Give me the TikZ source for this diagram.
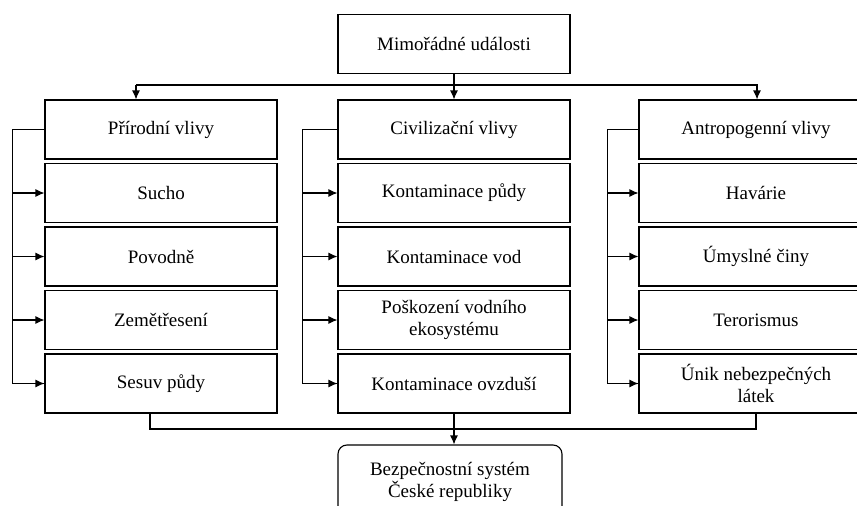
\documentclass[tikz,border=0pt]{standalone}
\usepackage{fontspec}
\setmainfont{Liberation Serif}
\usepackage{tikz}
\usetikzlibrary{calc, arrows.meta}

\begin{document}
\begin{tikzpicture}[x=1pt, y=-1pt, line width=1.1pt,
        box/.style={draw, minimum width=232pt, minimum height=59pt, inner sep=2pt,
            align=center, font=\fontsize{19}{22}\selectfont},
        arr/.style={-{Latex[length=9pt, width=8pt]}}]
            \clip (0,0) rectangle (857,506);
            \node[box] (top) at (454,44) {Mimořádné události};
            \node[box] (c1h) at (161,129.5) {Přírodní vlivy};
            \node[box] (c11) at (161,193) {Sucho};
            \node[box] (c12) at (161,256.5) {Povodně};
            \node[box] (c13) at (161,320) {Zemětřesení};
            \node[box] (c14) at (161,383.5) {Sesuv půdy};
            \node[box] (c2h) at (454,129.5) {Civilizační vlivy};
            \node[box] (c21) at (454,193) {Kontaminace půdy};
            \node[box] (c22) at (454,256.5) {Kontaminace vod};
            \node[box] (c23) at (454,320) {Poškození vodního\\ekosystému};
            \node[box] (c24) at (454,383.5) {Kontaminace ovzduší};
            \node[box, minimum width=234pt] (c3h) at (756,129.5) {Antropogenní vlivy};
            \node[box, minimum width=234pt] (c31) at (756,193) {Havárie};
            \node[box, minimum width=234pt] (c32) at (756,256.5) {Úmyslné činy};
            \node[box, minimum width=234pt] (c33) at (756,320) {Terorismus};
            \node[box, minimum width=234pt] (c34) at (756,383.5) {Únik nebezpečných\\látek};
            \node[box, rounded corners=9pt, minimum width=224pt, minimum height=74pt] (bss) at (450,482)
                {Bezpečnostní systém\\České republiky};
            \coordinate (bus1) at (136,85);
            \coordinate (bus3) at (757,85);
            \coordinate (out1) at (150,429);
            \draw[arr] (top) -- (c2h);
            \draw[arr] (bus1) -- (bus1 |- c1h.north);
            \draw[arr] (bus1) -- (bus3) -- (bus3 |- c3h.north);
            \foreach \c/\d in {1/32, 2/35, 3/31} {
                \draw (c\c h.west) -- ++(-\d,0) |- (c\c4.west);
                \foreach \k in {1,...,4}
                    \draw[arr] (c\c h.west) ++(-\d,0) |- (c\c\k.west);
            }
            \draw (out1 |- c14.south) -- (out1) -| (c34.south);
            \draw[arr] (c24.south) -- (c24.south |- bss.north);
\end{tikzpicture}
\end{document}
